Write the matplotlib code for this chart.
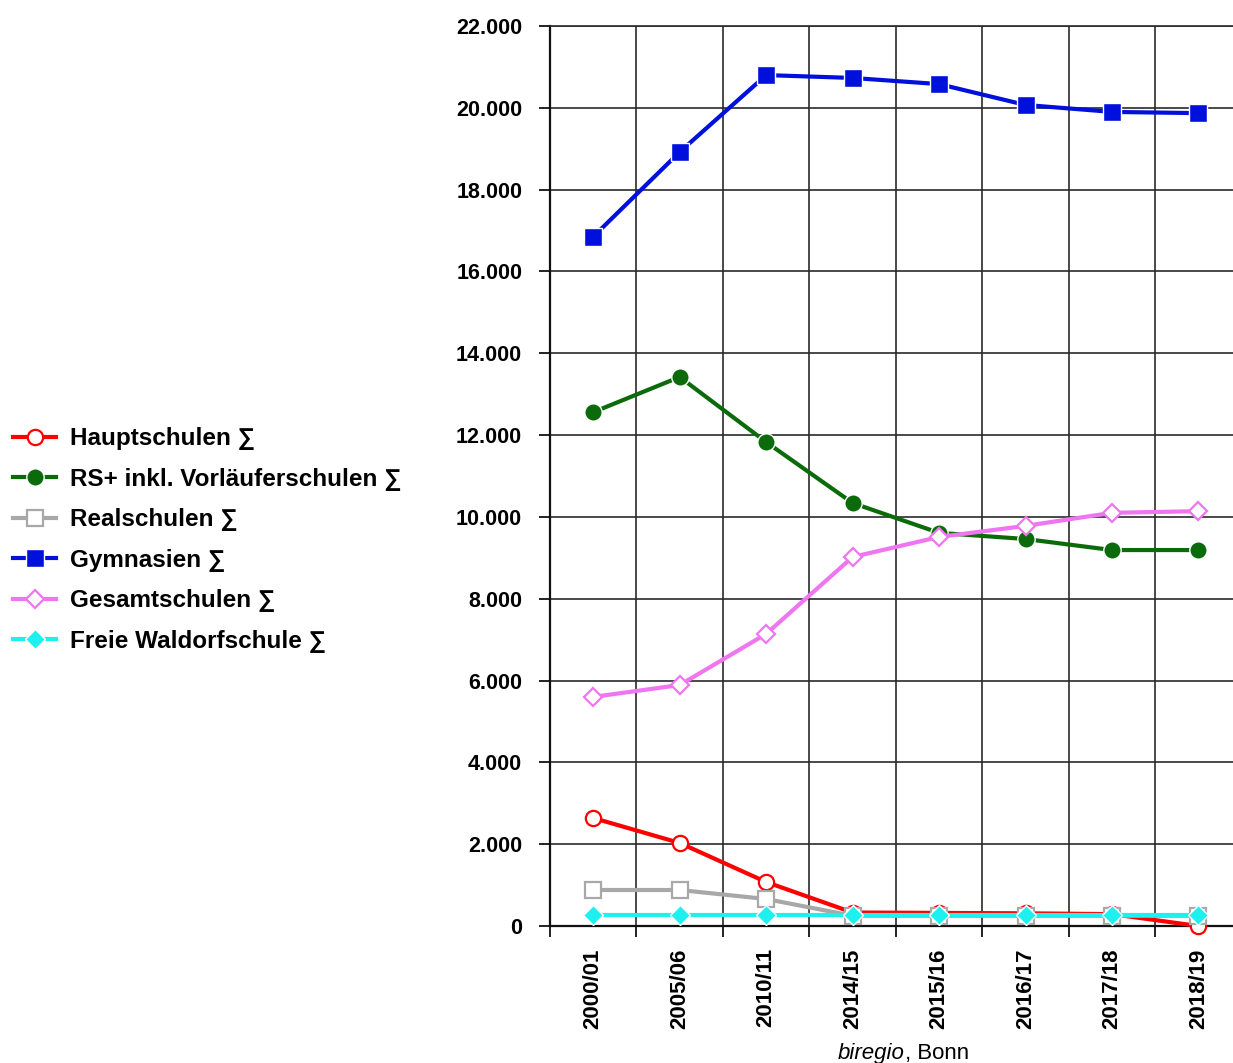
import matplotlib
matplotlib.use("Agg")
import matplotlib.pyplot as plt
from matplotlib.ticker import FixedLocator, FuncFormatter

years = ["2000/01", "2005/06", "2010/11", "2014/15", "2015/16", "2016/17", "2017/18", "2018/19"]
hauptschulen = [2640, 2030, 1075, 330, 320, 310, 290, 0]
rs_plus = [12560, 13420, 11830, 10340, 9610, 9460, 9190, 9190]
realschulen = [880, 880, 660, 250, 250, 250, 250, 250]
gymnasien = [16850, 18920, 20800, 20730, 20580, 20070, 19900, 19870]
gesamtschulen = [5600, 5890, 7140, 9020, 9510, 9780, 10100, 10140]
waldorf = [270, 270, 270, 270, 270, 270, 270, 270]
yticks = list(range(0, 22001, 2000))

series = [
    ("Hauptschulen \u2211", hauptschulen, "#ff0000", "o", "white", "#ff0000", 11),
    ("RS+ inkl. Vorläuferschulen \u2211", rs_plus, "#0b6b0b", "o", "#0b6b0b", "white", 12.5),
    ("Realschulen \u2211", realschulen, "#a8a8a8", "s", "white", "#a8a8a8", 11),
    ("Gymnasien \u2211", gymnasien, "#0010dc", "s", "#0010dc", "white", 13.5),
    ("Gesamtschulen \u2211", gesamtschulen, "#f075f0", "D", "white", "#f075f0", 9),
    ("Freie Waldorfschule \u2211", waldorf, "#1ef0f0", "D", "#1ef0f0", "white", 10),
]

fam = ["Liberation Sans", "DejaVu Sans"]
plt.rcParams["font.family"] = fam

W, H = 1233, 1063
fig = plt.figure(figsize=(W / 100, H / 100), dpi=100)
ax = fig.add_axes([550 / W, 1 - 926 / H, (W - 550) / W, (926 - 26) / H])

x = list(range(len(years)))
handles = []
for label, vals, color, marker, face, edge, ms in series:
    (ln,) = ax.plot(x, vals, color=color, lw=3.0, marker=marker, markersize=ms,
                    markerfacecolor=face, markeredgecolor=edge if face != "white" else color,
                    markeredgewidth=1.6 if face == "white" else 1.0,
                    label=label, clip_on=False, zorder=3)
    handles.append(ln)

ax.set_xlim(-0.5, 7.4)
ax.set_ylim(0, 22000)

ax.set_yticks(yticks)
ax.yaxis.set_major_formatter(FuncFormatter(lambda v, p: f"{int(v):,}".replace(",", ".")))
ax.set_xticks(x)
ax.set_xticklabels(years, rotation=90, fontsize=16, fontweight="bold")
ax.xaxis.set_minor_locator(FixedLocator([i - 0.5 for i in range(len(years))]))
ax.tick_params(axis="x", which="major", length=0, pad=16)
ax.tick_params(axis="x", which="minor", length=8, width=1.3, color="#111111")
ax.tick_params(axis="y", which="major", length=8, width=1.3, color="#111111", pad=12)
for lab in ax.get_yticklabels():
    lab.set_fontsize(15.5)
    lab.set_fontweight("bold")

ax.grid(True, axis="y", which="major", color="#2a2a2a", lw=1.2)
ax.grid(True, axis="x", which="minor", color="#2a2a2a", lw=1.2)
ax.set_axisbelow(True)
ax.spines["right"].set_visible(False)
ax.spines["top"].set_color("#2a2a2a")
ax.spines["top"].set_linewidth(1.2)
for s in ["left", "bottom"]:
    ax.spines[s].set_linewidth(1.6)
    ax.spines[s].set_color("#111111")

leg = fig.legend(handles=handles, loc="center left", bbox_to_anchor=(0.0, 1 - 540 / H),
                 frameon=False, prop={"family": fam, "weight": "bold", "size": 17.5},
                 handlelength=1.75, handletextpad=0.6, labelspacing=0.72, borderaxespad=0.15)

fig.text(905 / W, 1 - 1053 / H, "biregio", ha="right", va="center", fontsize=16, style="italic")
fig.text(905 / W, 1 - 1053 / H, ", Bonn", ha="left", va="center", fontsize=16)

fig.savefig("out.png", dpi=100)
